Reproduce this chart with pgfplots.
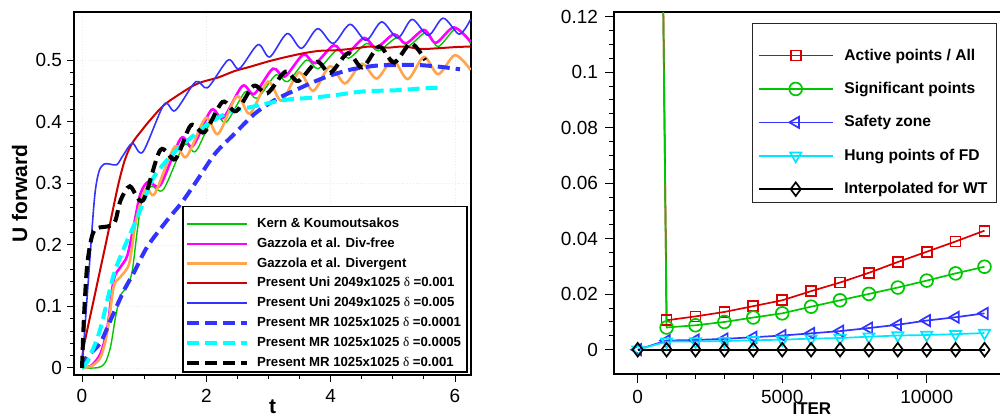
\documentclass[border=0pt]{standalone}
\usepackage{fontspec}
\setmainfont{Liberation Sans}
\newfontfamily\grk{Liberation Serif}
\usepackage{pgfplots}
\pgfplotsset{compat=1.18}

\definecolor{kgreen}{RGB}{0,200,0}
\definecolor{gmag}{RGB}{255,0,255}
\definecolor{gorange}{RGB}{255,165,80}
\definecolor{ured}{RGB}{204,0,0}
\definecolor{ublue}{RGB}{51,51,255}
\definecolor{mcyan}{RGB}{0,255,255}
\definecolor{rred}{RGB}{220,0,0}
\definecolor{rgreen}{RGB}{0,200,0}
\definecolor{rblue}{RGB}{51,51,255}
\definecolor{rcyan}{RGB}{0,230,255}

\newcommand{\dl}{{\grk\mdseries δ}}

\begin{document}
\begin{tikzpicture}
\path[use as bounding box] (0,0) rectangle (500pt,209.5pt);

% left: forward velocity
\begin{axis}[
  at={(37pt,22pt)}, anchor=south west, scale only axis,
  width=198.5pt, height=181.5pt,
  xmin=-0.129, xmax=6.257, ymin=-0.0114, ymax=0.578,
  xtick={0,2,4,6}, ytick={0,0.1,0.2,0.3,0.4,0.5},
  minor x tick num=3, minor y tick num=4,
  tick align=outside, xtick pos=bottom, ytick pos=left,
  major tick length=3.5pt, minor tick length=2pt,
  every tick/.style={black, line width=0.5pt},
  axis line style={line width=1pt},
  tick label style={font=\fontsize{9.5}{11}\selectfont},
  /pgf/number format/assume math mode=true,
  yticklabel style={/pgf/number format/fixed, xshift=1pt},
  scaled y ticks=false,
  grid=major, major grid style={gray!15, densely dotted, line width=0.3pt},
  xlabel={t}, ylabel={U forward},
  label style={font=\fontsize{10.5}{12}\selectfont\bfseries},
  xlabel style={at={(axis description cs:0.5,-0.105)}, anchor=base},
  ylabel style={at={(axis description cs:-0.137,0.5)}, anchor=center},
  legend cell align=left,
  legend image code/.code={\draw[#1] (0pt,0pt) -- (30pt,0pt);},
  legend style={at={(0.992,0.0055)}, anchor=south east,
    font=\fontsize{6.6}{7}\selectfont\bfseries,
    draw=black, line width=0.8pt, fill=white,
    inner xsep=1pt, inner ysep=1.3pt, row sep=2.9pt,
    nodes={text height=4.7pt, text depth=1.3pt, inner ysep=0.5pt},
    /tikz/every odd column/.append style={column sep=2pt}},
]
\addlegendimage{empty legend}
\addlegendentry[text height=0pt, text depth=0pt]{}

\addplot[color=kgreen, line width=0.7pt, smooth] coordinates {
(0,0) (0.2,0.000) (0.3,0.002) (0.38,0.010) (0.46,0.035) (0.54,0.083) (0.62,0.118)
(0.73,0.132) (0.81,0.159) (0.89,0.224) (0.97,0.275) (1.12,0.295) (1.31,0.290)
(1.64,0.362) (1.83,0.352) (2.13,0.411) (2.32,0.399) (2.63,0.449) (2.82,0.438)
(3.12,0.476) (3.31,0.465) (3.61,0.500) (3.80,0.486) (4.10,0.516) (4.29,0.503)
(4.58,0.527) (4.77,0.515) (5.06,0.536) (5.25,0.523) (5.54,0.545) (5.73,0.522)
(6.02,0.551) (6.25,0.527)};
\addlegendentry{Kern \& Koumoutsakos}

\addplot[color=gmag, line width=1.3pt, smooth] coordinates {
(0,0) (0.15,0.004) (0.3,0.024) (0.41,0.067) (0.51,0.143) (0.62,0.164) (0.73,0.183)
(0.84,0.235) (0.94,0.283) (1.07,0.303) (1.26,0.297) (1.59,0.373) (1.78,0.360)
(2.08,0.419) (2.27,0.406) (2.58,0.458) (2.77,0.445) (3.07,0.486) (3.26,0.473)
(3.56,0.509) (3.75,0.495) (4.05,0.524) (4.24,0.509) (4.54,0.536) (4.73,0.520)
(5.02,0.542) (5.21,0.527) (5.50,0.549) (5.69,0.528) (5.98,0.553) (6.25,0.530)};
\addlegendentry{Gazzola et al. Div-free}

\addplot[color=gorange, line width=1.3pt, smooth] coordinates {
(0,0) (0.15,0.003) (0.3,0.018) (0.41,0.060) (0.51,0.132) (0.62,0.148) (0.76,0.170)
(0.86,0.235) (0.97,0.278) (1.05,0.292) (1.17,0.283) (1.49,0.359) (1.68,0.343)
(1.99,0.406) (2.19,0.380) (2.49,0.441) (2.70,0.413) (2.99,0.465) (3.21,0.434)
(3.49,0.480) (3.72,0.450) (3.99,0.490) (4.23,0.462) (4.50,0.494) (4.74,0.470)
(5.00,0.500) (5.24,0.469) (5.50,0.505) (5.73,0.477) (6.00,0.508) (6.25,0.484)};
\addlegendentry{Gazzola et al. Divergent}

\addplot[color=ured, line width=1pt, smooth] coordinates {
(0,0) (0.02,0.03) (0.2,0.116) (0.4,0.21) (0.53,0.273) (0.6,0.305) (0.68,0.335)
(0.76,0.356) (0.84,0.370) (0.97,0.387) (1.1,0.403) (1.32,0.427) (1.59,0.446)
(1.8,0.459) (1.95,0.465) (2.2,0.472) (2.45,0.482) (2.7,0.489) (2.97,0.497)
(3.2,0.503) (3.56,0.511) (3.83,0.515) (4.1,0.516) (4.4,0.519) (4.63,0.522)
(4.9,0.520) (5.17,0.522) (5.45,0.518) (5.7,0.519) (6.0,0.521) (6.25,0.522)};
\addlegendentry{Present Uni 2049x1025 \dl\ =0.001}

\addplot[color=ublue, line width=0.8pt, smooth] coordinates {
(0,0) (0.1,0.14) (0.2,0.275) (0.27,0.318) (0.35,0.331) (0.45,0.331) (0.56,0.330)
(0.66,0.345) (0.81,0.365) (0.98,0.351) (1.32,0.428) (1.50,0.418) (1.83,0.465)
(2.02,0.455) (2.35,0.500) (2.53,0.486) (2.83,0.525) (3.02,0.505) (3.30,0.543)
(3.53,0.519) (3.79,0.551) (4.04,0.527) (4.31,0.558) (4.57,0.532) (4.82,0.562)
(5.08,0.536) (5.31,0.566) (5.57,0.540) (5.81,0.568) (6.07,0.542) (6.25,0.566)};
\addlegendentry{Present Uni 2049x1025 \dl\ =0.005}

\addplot[color=ublue, line width=2pt, dash pattern=on 6pt off 3pt, smooth] coordinates {
(0,0) (0.08,0.018) (0.29,0.040) (0.46,0.078) (0.68,0.127) (0.83,0.154) (1.05,0.197)
(1.37,0.240) (1.6,0.268) (1.82,0.300) (2.14,0.348) (2.46,0.381) (2.78,0.413)
(3.10,0.435) (3.43,0.451) (3.86,0.470) (4.3,0.484) (4.74,0.491) (5.1,0.492)
(5.4,0.492) (5.76,0.489) (6.08,0.485)};
\addlegendentry{Present MR 1025x1025 \dl\ =0.0001}

\addplot[color=mcyan, line width=2pt, dash pattern=on 6pt off 3pt, smooth] coordinates {
(0,0) (0.1,0.013) (0.29,0.062) (0.5,0.148) (0.66,0.191) (0.88,0.242) (1.0,0.273)
(1.16,0.311) (1.5,0.352) (1.9,0.386) (2.03,0.397) (2.38,0.416) (2.73,0.424)
(3.0,0.430) (3.32,0.436) (3.72,0.439) (4.07,0.443) (4.52,0.449) (5.06,0.451)
(5.49,0.454) (5.73,0.455)};
\addlegendentry{Present MR 1025x1025 \dl\ =0.0005}

\addplot[color=black, line width=2pt, dash pattern=on 6pt off 3pt, smooth] coordinates {
(0,0) (0.03,0.08) (0.08,0.164) (0.15,0.21) (0.22,0.226) (0.35,0.229) (0.46,0.231)
(0.54,0.240) (0.62,0.272) (0.77,0.295) (0.98,0.272) (1.26,0.354) (1.50,0.339)
(1.75,0.394) (1.97,0.383) (2.26,0.432) (2.48,0.417) (2.76,0.458) (2.98,0.446)
(3.27,0.481) (3.48,0.466) (3.78,0.497) (3.99,0.479) (4.28,0.511) (4.51,0.488)
(4.78,0.522) (5.02,0.496) (5.29,0.527) (5.52,0.500)};
\addlegendentry{Present MR 1025x1025 \dl\ =0.001}
\end{axis}

% right: point fractions against iterations
\begin{axis}[
  at={(307pt,22.5pt)}, anchor=south west, scale only axis,
  width=194pt, height=181pt,
  xmin=-820, xmax=12606, ymin=-0.00876, ymax=0.1217,
  xtick={0,5000,10000}, ytick={0,0.02,0.04,0.06,0.08,0.1,0.12},
  minor x tick num=4, minor y tick num=3,
  tick align=outside, xtick pos=bottom, ytick pos=left,
  major tick length=4.5pt, minor tick length=2.3pt,
  every tick/.style={black, line width=0.5pt},
  axis line style={line width=1pt},
  tick label style={font=\fontsize{9.5}{11}\selectfont},
  /pgf/number format/assume math mode=true,
  scaled x ticks=false, scaled y ticks=false,
  xticklabel style={/pgf/number format/1000 sep={}},
  yticklabel style={/pgf/number format/fixed, /pgf/number format/precision=2},
  xlabel={ITER},
  xlabel style={at={(axis description cs:0.51,-0.113)}, anchor=base,
    font=\fontsize{8.5}{10}\selectfont\bfseries},
  legend cell align=left,
  legend image code/.code={\draw[mark repeat=2,mark phase=2,#1]
    plot coordinates {(0pt,0pt) (18.5pt,0pt) (37pt,0pt)};},
  legend style={at={(0.987,0.970)}, anchor=north east,
    font=\fontsize{7.8}{9}\selectfont\bfseries,
    draw=black!85, line width=0.6pt, fill=white,
    inner xsep=2.5pt, inner ysep=1.1pt, row sep=5.2pt,
    /tikz/every even column/.append style={text height=6pt, text depth=1.8pt, inner ysep=0.5pt},
    /tikz/every odd column/.append style={column sep=3.4pt}},
]
\addlegendimage{empty legend}
\addlegendentry[text height=0pt, text depth=0pt]{}

\addplot[color=rred, line width=0.85pt, mark=square, mark size=2.5pt] coordinates {
(0,1) (1000,0.0106) (2000,0.0120) (3000,0.0136) (4000,0.0157) (5000,0.0178)
(6000,0.0211) (7000,0.0242) (8000,0.0277) (9000,0.0316) (10000,0.0353)
(11000,0.0390) (12000,0.0429)};
\addlegendentry{Active points / All}

\addplot[color=rgreen, line width=0.85pt, mark=o, mark size=3.2pt] coordinates {
(0,1) (1000,0.0080) (2000,0.0088) (3000,0.0100) (4000,0.0116) (5000,0.0131)
(6000,0.0155) (7000,0.0178) (8000,0.0201) (9000,0.0224) (10000,0.0249)
(11000,0.0275) (12000,0.0299)};
\addlegendentry{Significant points}

\addplot[color=rblue, line width=0.85pt, mark=triangle, mark size=3.2pt,
  mark options={rotate=90}] coordinates {
(0,0) (1000,0.0033) (2000,0.0035) (3000,0.0039) (4000,0.0045) (5000,0.0051)
(6000,0.0059) (7000,0.0067) (8000,0.0078) (9000,0.0090) (10000,0.0105)
(11000,0.0117) (12000,0.0131)};
\addlegendentry{Safety zone}

\addplot[color=rcyan, line width=0.85pt, mark=triangle, mark size=3.2pt,
  mark options={rotate=180}] coordinates {
(0,0) (1000,0.0029) (2000,0.0030) (3000,0.0031) (4000,0.0034) (5000,0.0036)
(6000,0.0040) (7000,0.0042) (8000,0.0047) (9000,0.0051) (10000,0.0053)
(11000,0.0056) (12000,0.0060)};
\addlegendentry{Hung points of FD}

\addplot[color=black, line width=0.85pt, mark=diamond, mark size=3.4pt] coordinates {
(0,0) (1000,0) (2000,0) (3000,0) (4000,0) (5000,0) (6000,0) (7000,0)
(8000,0) (9000,0) (10000,0) (11000,0) (12000,0)};
\addlegendentry{Interpolated for WT}
\end{axis}
\end{tikzpicture}
\end{document}
